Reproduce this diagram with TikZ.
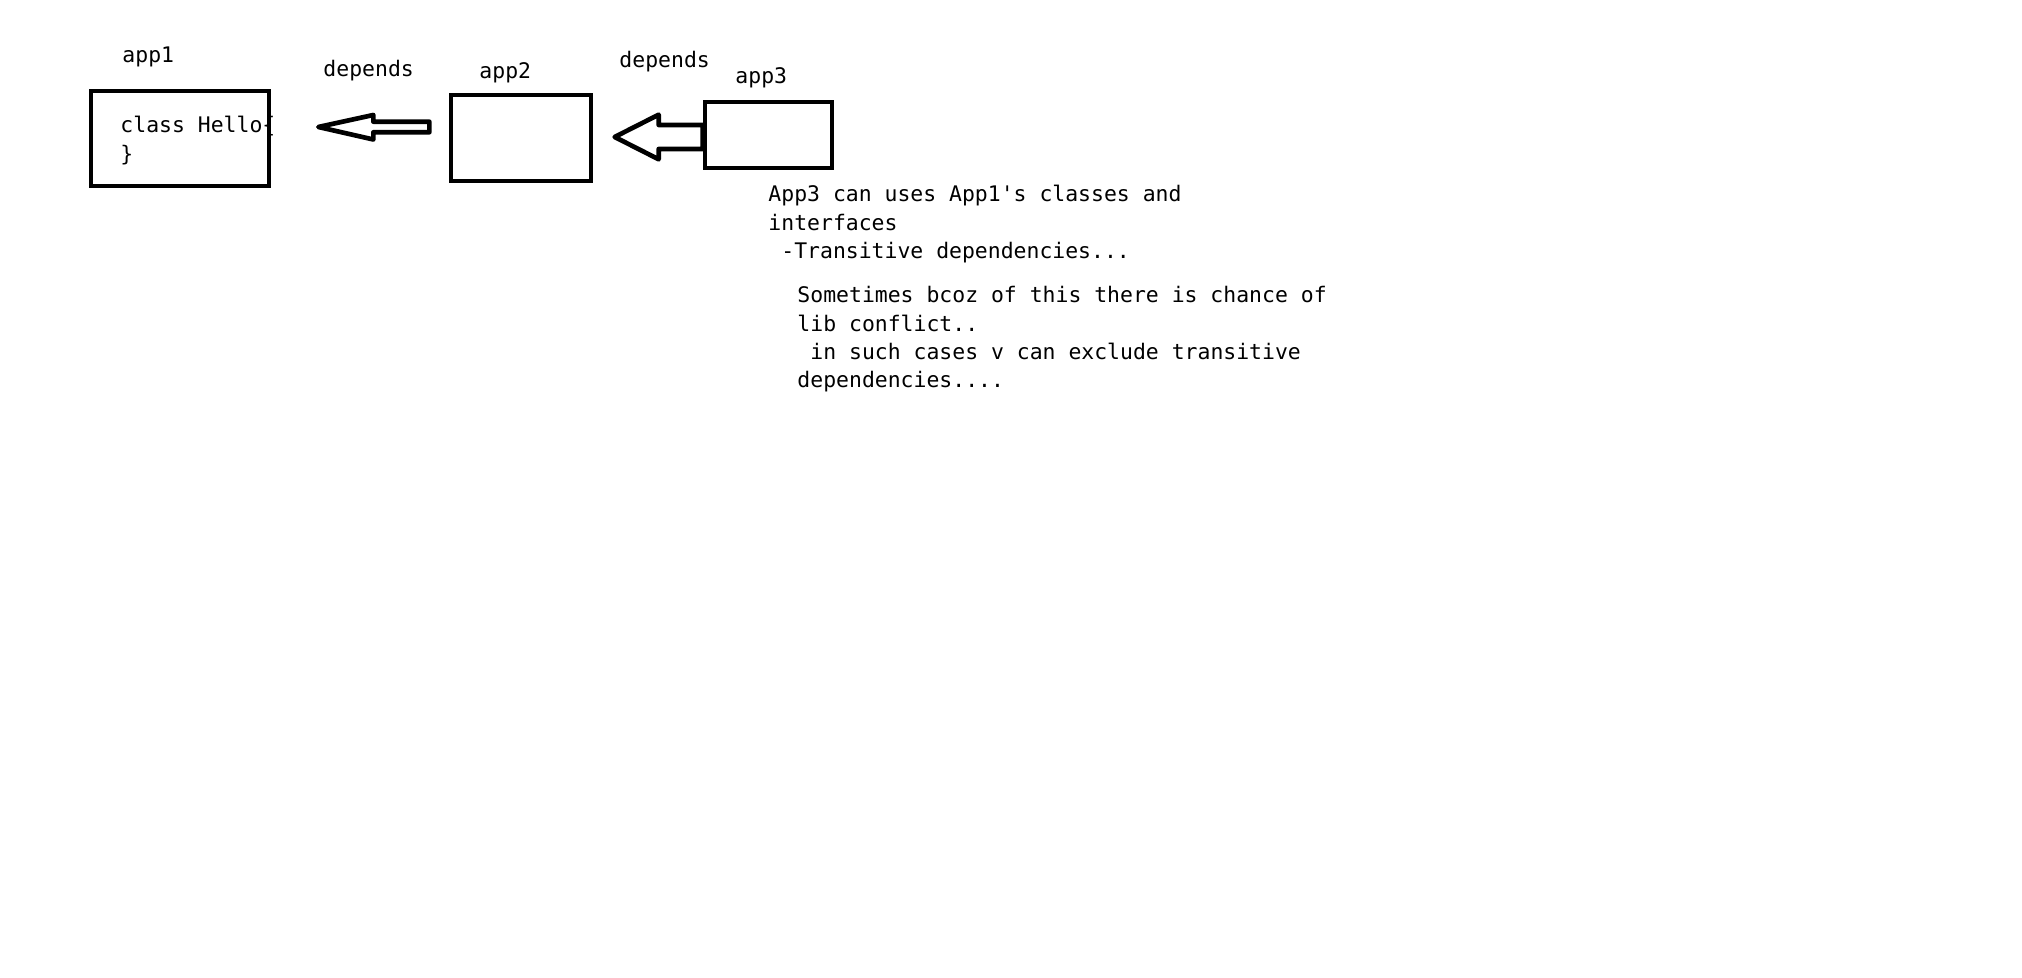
\documentclass[tikz,border=0pt]{standalone}
\usepackage{fontspec}
\setmonofont{DejaVu Sans Mono}
\usetikzlibrary{calc}
\tikzset{
    appbox/.style={draw=black,line width=0.7mm,inner sep=0pt},
    lbl/.style={font=\ttfamily\fontsize{9.15}{12.13}\selectfont,inner sep=0pt,anchor=base west,align=left},
    deparrow/.style={draw=black,line width=0.7mm,line join=round}
}
\begin{document}
\begin{tikzpicture}[x=0.015cm,y=-0.015cm]
        \useasboundingbox (0,0) rectangle (2022,978);
        %APP1 (multi-line labels sit on the baseline of their last line)
        \node[lbl] (hello) at (120,161.4) {class Hello\{\\\}};
        \node[appbox,minimum width=2.67cm,minimum height=1.425cm] (app1) at (180,138.5) {};
        \node[lbl] (app1lbl) at (122,63) {app1};
        %APP2
        \node[appbox,minimum width=2.1cm,minimum height=1.29cm] (app2) at (521,138) {};
        \node[lbl] (app2lbl) at (479,79) {app2};
        %APP3
        \node[appbox,minimum width=1.905cm,minimum height=0.99cm] (app3) at (768.5,135) {};
        \node[lbl] (app3lbl) at (735,84) {app3};

        %ARROW app2 -> app1
        \coordinate (tip1) at ($(app1.east)+(47,-11.5)$);
        \draw[deparrow] (tip1) -- ++(55,-12) -- ++(0,6.7) -- ++(56,0) -- ++(0,10.6) -- ++(-56,0) -- ++(0,7.2) -- cycle;
        \node[lbl] (dep1) at (323,77) {depends};
        %ARROW app3 -> app2
        \coordinate (tip2) at ($(app3.west)+(-88,2)$);
        \draw[deparrow] (tip2) -- ++(44,-22.3) -- ++(0,10.3) -- ++(44,0) -- ++(0,24) -- ++(-44,0) -- ++(0,10.3) -- cycle;
        \node[lbl] (dep2) at (619,68) {depends};

        %NOTES
        \node[lbl] (note) at (768,258.8) {App3 can uses App1's classes and\\interfaces\\~-Transitive dependencies...};
        \node[lbl] (conflict) at (797,388) {Sometimes bcoz of this there is chance of\\lib conflict..\\~in such cases v can exclude transitive\\dependencies....};
    \end{tikzpicture}
\end{document}
